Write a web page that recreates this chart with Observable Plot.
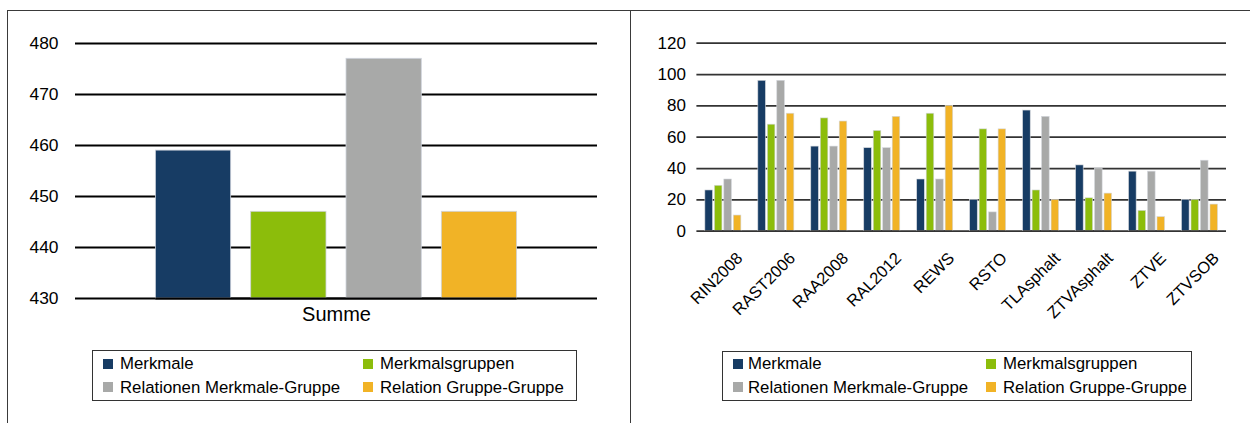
<!DOCTYPE html>
<html>
<head>
<meta charset="utf-8">
<script src="https://cdn.jsdelivr.net/npm/d3@7"></script>
<script src="https://cdn.jsdelivr.net/npm/@observablehq/plot@0.6"></script>
<style>
  html, body { margin: 0; padding: 0; background: #fff; }
  body { width: 1250px; height: 423px; overflow: hidden; position: relative;
         font-family: "Liberation Sans", Arial, sans-serif; color: #000; }
  .abs { position: absolute; }
  .layer { position: absolute; left: 0; top: 0; max-width: none !important; }
  .frame { border-color: #3a3a3a; border-style: solid; border-width: 0; box-sizing: border-box; }
  .legend { border: 1.5px solid #333; box-sizing: border-box; background: #fff; }
  .item { position: absolute; font-size: 16.8px; line-height: 17px; white-space: nowrap; }
  .sw { position: absolute; width: 10px; height: 10px; }
  svg { overflow: visible; }
</style>
</head>
<body>
<div class="abs frame" style="left:7px;top:10px;width:624px;height:430px;border-left-width:1.5px;border-top-width:1.5px;border-right-width:1.5px;"></div>
<div class="abs frame" style="left:630px;top:10px;width:630px;height:430px;border-top-width:1.5px;"></div>
<div id="left" class="abs" style="left:0;top:0;width:630px;height:340px;"></div>
<div id="right" class="abs" style="left:630px;top:0;width:620px;height:330px;"></div>
<script>
// ---- data ----
const categories = ["RIN2008","RAST2006","RAA2008","RAL2012","REWS","RSTO","TLAsphalt","ZTVAsphalt","ZTVE","ZTVSOB"];
const series = ["Merkmale","Merkmalsgruppen","Relationen Merkmale-Gruppe","Relation Gruppe-Gruppe"];
const colors = ["#173c64","#8cbd0b","#a8a9a8","#f1b326"];
const merkmale        = [26, 96, 54, 53, 33, 20, 77, 42, 38, 20];
const merkmalsgruppen = [29, 68, 72, 64, 75, 65, 26, 21, 13, 20];
const relationenMG    = [33, 96, 54, 53, 33, 12, 73, 40, 38, 45];
const relationGG      = [10, 75, 70, 73, 80, 65, 20, 24,  9, 17];
const summeLabel = ["Summe"];
const summeValues = [459, 447, 477, 447];
const leftTicks = [430, 440, 450, 460, 470, 480];
const rightTicks = [0, 20, 40, 60, 80, 100, 120];

const seriesValues = [merkmale, merkmalsgruppen, relationenMG, relationGG];
const rightRows = categories.flatMap((c, i) => series.map((s, j) => ({category: c, series: s, value: seriesValues[j][i]})));
const leftRows = series.map((s, j) => ({group: summeLabel[0], series: s, value: summeValues[j]}));

const font = "'Liberation Sans', Arial, sans-serif";
const style = {fontFamily: font, background: "transparent", overflow: "visible", maxWidth: "none"};

function mount(id, svg) {
  svg.classList.add("layer");
  document.getElementById(id).appendChild(svg);
}

// ---- left chart ----
const L = {width: 630, height: 340, marginLeft: 75, marginRight: 33, marginTop: 43, marginBottom: 42};
const leftY = {domain: [leftTicks[0], leftTicks[leftTicks.length - 1]], axis: null};
mount("left", Plot.plot({
  ...L, style,
  x: {type: "band", domain: summeLabel, padding: 0, axis: null, round: false},
  y: leftY,
  marks: [
    Plot.ruleY(leftTicks, {stroke: "#000", strokeWidth: 2.2}),
    Plot.text(leftTicks, {y: d => d, frameAnchor: "left", textAnchor: "end", dx: -17, fontSize: 17.4, fill: "#000"}),
    Plot.text(summeLabel, {x: d => d, frameAnchor: "bottom", dy: 22, fontSize: 20, fill: "#000"})
  ]
}));
mount("left", Plot.plot({
  ...L, style,
  fx: {domain: summeLabel, paddingInner: 0.182, paddingOuter: 0.182, axis: null, round: false},
  x: {domain: series, paddingInner: 0.21, paddingOuter: 0, axis: null, round: false},
  y: leftY,
  color: {domain: series, range: colors},
  marks: [
    Plot.barY(leftRows, {fx: "group", x: "series", y1: leftTicks[0], y2: "value", fill: "series", stroke: "#cfd3dc", strokeWidth: 0.8}),
    Plot.ruleY(leftTicks.slice(0, 1), {stroke: "#000", strokeWidth: 2.2})
  ]
}));

// ---- right chart ----
const R = {width: 620, height: 330, marginLeft: 66.4, marginRight: 24, marginTop: 42.7, marginBottom: 330 - 230.7};
const rightY = {domain: [rightTicks[0], rightTicks[rightTicks.length - 1]], axis: null};
mount("right", Plot.plot({
  ...R, style,
  x: {type: "band", domain: categories, padding: 0, axis: null, round: false},
  y: rightY,
  marks: [
    Plot.ruleY(rightTicks, {stroke: "#333", strokeWidth: 1.8}),
    Plot.text(rightTicks, {y: d => d, frameAnchor: "left", textAnchor: "end", dx: -11, fontSize: 17, fill: "#000"}),
    Plot.text(categories, {x: d => d, frameAnchor: "bottom", rotate: -45, textAnchor: "end", lineAnchor: "bottom", dx: 20, dy: 28, fontSize: 16.5, fill: "#000"})
  ]
}));
mount("right", Plot.plot({
  ...R, style,
  fx: {domain: categories, paddingInner: 0.32, paddingOuter: 0.16, axis: null, round: false},
  x: {domain: series, paddingInner: 0.2, paddingOuter: 0, axis: null, round: false},
  y: rightY,
  color: {domain: series, range: colors},
  marks: [
    Plot.barY(rightRows, {fx: "category", x: "series", y: "value", fill: "series", stroke: "#d4d7dd", strokeWidth: 0.6}),
    Plot.ruleY(rightTicks.slice(0, 1), {stroke: "#333", strokeWidth: 1.8})
  ]
}));

// ---- legends ----
function legend(cfg) {
  const box = document.createElement("div");
  box.className = "abs legend";
  Object.assign(box.style, {left: cfg.left + "px", top: cfg.top + "px", width: cfg.width + "px", height: cfg.height + "px"});
  document.body.appendChild(box);
  series.forEach((s, i) => {
    const col = i % 2, row = Math.floor(i / 2);
    const cy = cfg.rows[row];
    const sw = document.createElement("div");
    sw.className = "sw";
    Object.assign(sw.style, {left: cfg.swX[col] + "px", top: (cy - 5) + "px", background: colors[i]});
    document.body.appendChild(sw);
    const t = document.createElement("div");
    t.className = "item";
    t.textContent = s;
    Object.assign(t.style, {left: cfg.txtX[col] + "px", top: (cy - 8.5) + "px"});
    document.body.appendChild(t);
  });
}
legend({left: 92, top: 350, width: 485, height: 51, rows: [363.5, 387], swX: [103, 363], txtX: [120, 380]});
legend({left: 721.5, top: 350.5, width: 470, height: 50, rows: [363.5, 387], swX: [732.5, 986], txtX: [748, 1003]});
</script>
</body>
</html>
